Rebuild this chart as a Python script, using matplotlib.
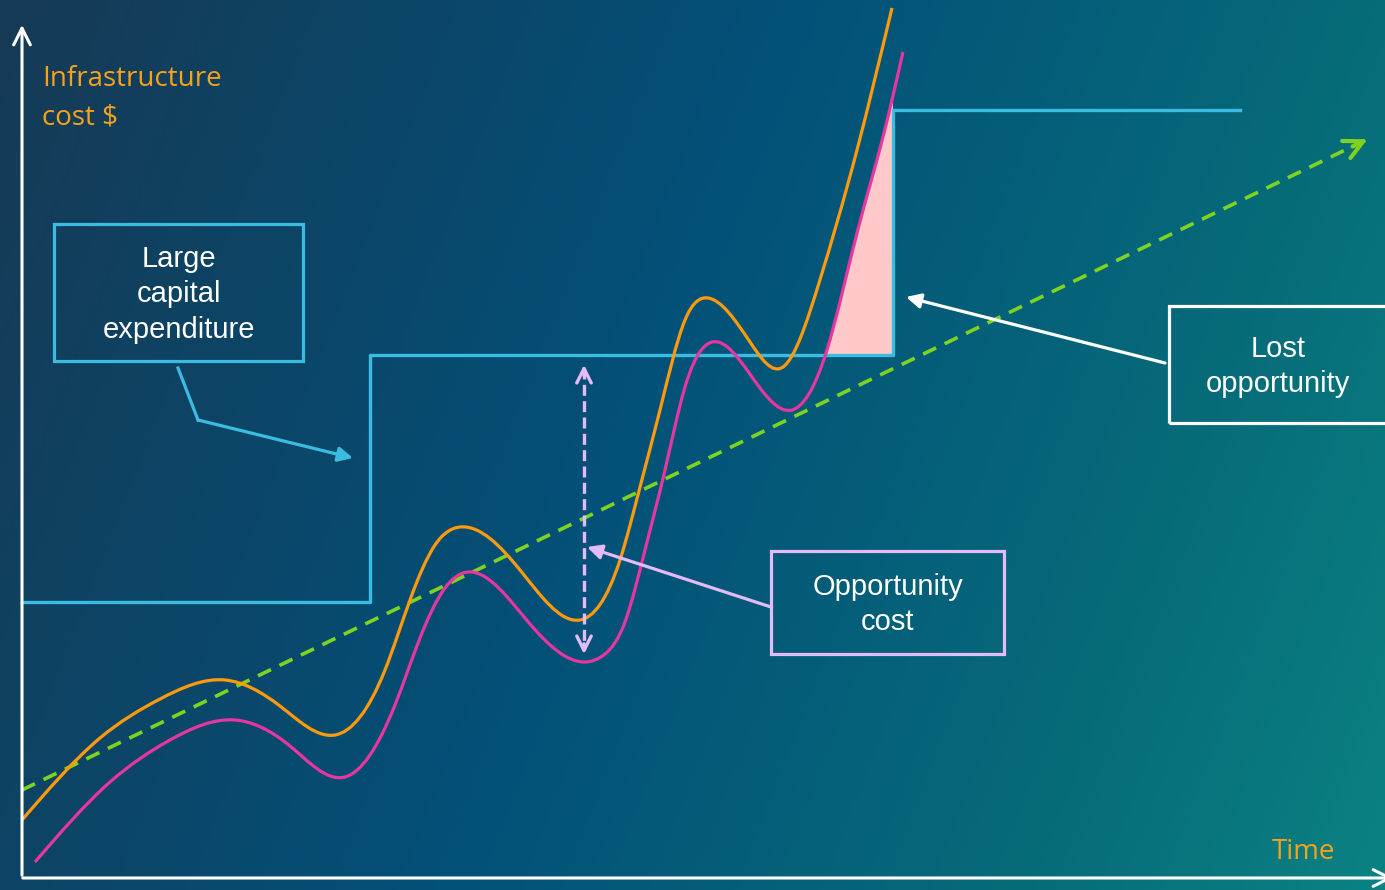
import numpy as np
import matplotlib
matplotlib.use("Agg")
import matplotlib.pyplot as plt
from matplotlib.path import Path
from matplotlib.patches import PathPatch, Rectangle
from matplotlib.colors import LinearSegmentedColormap

W, H = 1385, 890

# demand curves (time, cost)
orange_t = [22, 100, 160, 225, 280, 335, 385, 410, 435, 460, 520, 580,
            620, 640, 660, 685, 708, 750, 783, 819, 857, 892]
orange_c = [70, 152, 191, 210, 184, 155, 220, 290, 345, 363, 320, 270,
            330, 403, 480, 570, 592, 548, 523, 607, 740, 882]

pink_t = [35, 110, 170, 235, 290, 345, 395, 420, 445, 468, 530, 585,
          605, 625, 645, 665, 685, 718, 760, 792, 826, 857, 884, 903]
pink_c = [28, 108, 150, 170, 144, 113, 185, 252, 302, 318, 266, 228,
          236, 268, 340, 420, 503, 548, 502, 480, 537, 657, 757, 838]

# provisioned capacity (step)
capacity_t = [22, 370, 370, 893, 893, 1240]
capacity_c = [288, 288, 535, 535, 780, 780]

# linear trend
trend_t = [22, 1370]
trend_c = [100, 752]

ORANGE = "#ff9a0c"
PINK = "#e7369f"
BLUE = "#3bbde2"
GREEN = "#7ed321"
LAVENDER = "#e4bbf7"
SALMON = "#ffc9c9"
LABEL = "#f7a21b"


def smooth_path(xs, ys):
    """Natural cubic spline through the points, written out as Bezier segments."""
    x = np.asarray(xs, float)
    y = np.asarray(ys, float)
    n = len(x)
    h = np.diff(x)
    d = np.diff(y) / h
    A = np.zeros((n, n))
    b = np.zeros(n)
    A[0, 0] = A[-1, -1] = 1
    for k in range(1, n - 1):
        A[k, k - 1] = h[k - 1]
        A[k, k] = 2 * (h[k - 1] + h[k])
        A[k, k + 1] = h[k]
        b[k] = 6 * (d[k] - d[k - 1])
    M = np.linalg.solve(A, b)
    m = np.empty(n)
    m[:-1] = d - h * (2 * M[:-1] + M[1:]) / 6
    m[-1] = d[-1] + h[-1] * (M[-2] + 2 * M[-1]) / 6
    verts = [(x[0], y[0])]
    codes = [Path.MOVETO]
    for k in range(n - 1):
        verts += [(x[k] + h[k] / 3, y[k] + m[k] * h[k] / 3),
                  (x[k + 1] - h[k] / 3, y[k + 1] - m[k + 1] * h[k] / 3),
                  (x[k + 1], y[k + 1])]
        codes += [Path.CURVE4] * 3
    return np.array(verts), codes


fig = plt.figure(figsize=(W / 100, H / 100), dpi=100)
ax = fig.add_axes([0, 0, 1, 1])
ax.set_xlim(0, W)
ax.set_ylim(0, H)
ax.axis("off")

# background gradient
cmap = LinearSegmentedColormap.from_list(
    "bg", [(0.0, "#163a55"), (0.45, "#035078"), (0.8, "#076c7a"), (1.0, "#0b8282")])
gx, gy = np.meshgrid(np.linspace(0, 1, 300), np.linspace(0, 1, 200))
ax.imshow(0.8 * gx + 0.2 * gy, cmap=cmap, extent=[0, W, 0, H], origin="upper",
          aspect="auto", zorder=0, vmin=0, vmax=1)

# lost opportunity area: right of pink curve, above capacity, left of the step
pv, pc = smooth_path(pink_t, pink_c)
clip_verts = np.vstack([pv, [[pink_t[-1], H], [W, H], [W, 0], [pink_t[0], 0], pv[0]]])
clip_codes = pc + [Path.LINETO] * 4 + [Path.CLOSEPOLY]
clip = PathPatch(Path(clip_verts, clip_codes), transform=ax.transData)
area = Rectangle((780, capacity_c[2]), capacity_t[3] - 780, H, facecolor=SALMON,
                 edgecolor="none", zorder=2)
ax.add_patch(area)
area.set_clip_path(clip)

# trend
ax.plot(trend_t, trend_c, color=GREEN, lw=2.6, dashes=(4, 2.6), zorder=3)
ax.annotate("", xy=(trend_t[1], trend_c[1]), xytext=(trend_t[1] - 20, trend_c[1] - 9.7),
            arrowprops=dict(arrowstyle="->", color=GREEN, lw=3.0, mutation_scale=34),
            zorder=3)

# capacity step
ax.plot(capacity_t, capacity_c, color=BLUE, lw=2.4, zorder=4)

# demand curves
for t, c, col in [(orange_t, orange_c, ORANGE), (pink_t, pink_c, PINK)]:
    v, cd = smooth_path(t, c)
    ax.add_patch(PathPatch(Path(v, cd), facecolor="none", edgecolor=col, lw=2.3,
                           zorder=5, capstyle="butt"))

# axes arrows
ax.annotate("", xy=(22, 868), xytext=(22, 12),
            arrowprops=dict(arrowstyle="->", color="white", lw=2.2, mutation_scale=30),
            zorder=6)
ax.annotate("", xy=(1396, 12), xytext=(20, 12), annotation_clip=False,
            arrowprops=dict(arrowstyle="->", color="white", lw=2.2, mutation_scale=30),
            zorder=6)
ax.text(42, 792, "Infrastructure\ncost $", color=LABEL, fontsize=20,
        family="Open Sans", ha="left", va="center", linespacing=1.5)
ax.text(1272, 38, "Time", color=LABEL, fontsize=20, family="Open Sans",
        ha="left", va="center")

# opportunity cost gap
ax.plot([584, 584], [522, 240], color=LAVENDER, lw=2.4, dashes=(3.3, 1.6), zorder=6)
ax.annotate("", xy=(584, 528), xytext=(584, 512),
            arrowprops=dict(arrowstyle="->", color=LAVENDER, lw=2.4, mutation_scale=26),
            zorder=6)
ax.annotate("", xy=(584, 233), xytext=(584, 249),
            arrowprops=dict(arrowstyle="->", color=LAVENDER, lw=2.4, mutation_scale=26),
            zorder=6)

# callout boxes
boxes = [
    ((54, 529), 249, 137, BLUE, "Large\ncapital\nexpenditure"),
    ((1169, 467), 230, 117, "white", "Lost\nopportunity"),
    ((771, 236), 233, 103, LAVENDER, "Opportunity\ncost"),
]
for (x0, y0), bw, bh, col, label in boxes:
    ax.add_patch(Rectangle((x0, y0), bw, bh, facecolor="none", edgecolor=col,
                           lw=2.3, zorder=7))
    cx = x0 + bw / 2 if x0 + bw < W else 1278
    ax.text(cx, y0 + bh / 2 - 2, label, color="white", fontsize=21,
            family="Liberation Sans", ha="center", va="center", linespacing=1.33,
            zorder=8)

# callout pointers
ax.plot([178, 198], [522, 470], color=BLUE, lw=2.3, zorder=7)
ax.annotate("", xy=(353, 432), xytext=(198, 470),
            arrowprops=dict(arrowstyle="-|>", color=BLUE, lw=2.3, mutation_scale=22,
                            shrinkA=0, shrinkB=0), zorder=7)
ax.annotate("", xy=(906, 593), xytext=(1165, 527),
            arrowprops=dict(arrowstyle="-|>", color="white", lw=2.3, mutation_scale=22,
                            shrinkA=0, shrinkB=0), zorder=7)
ax.annotate("", xy=(587, 343), xytext=(771, 283),
            arrowprops=dict(arrowstyle="-|>", color=LAVENDER, lw=2.3, mutation_scale=22,
                            shrinkA=0, shrinkB=0), zorder=7)

fig.savefig("out.png", dpi=100)
